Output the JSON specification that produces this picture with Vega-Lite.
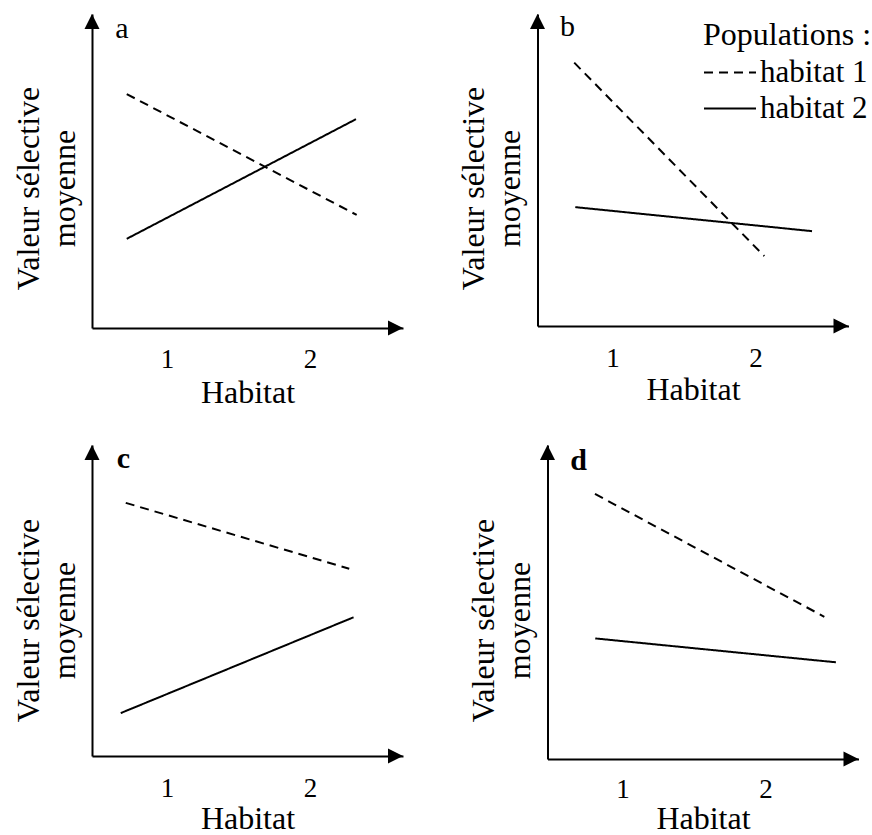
{
  "$schema": "https://vega.github.io/schema/vega-lite/v6.json",
  "padding": {"left": 12, "top": 12, "right": 0, "bottom": 0},
  "background": "white",
  "datasets": {
    "lines": [
      {"panel": "a", "pop": "habitat 1", "x": 0.718, "y": 7.45},
      {"panel": "a", "pop": "habitat 1", "x": 2.326, "y": 3.60},
      {"panel": "a", "pop": "habitat 2", "x": 0.718, "y": 2.84},
      {"panel": "a", "pop": "habitat 2", "x": 2.321, "y": 6.65},
      {"panel": "b", "pop": "habitat 1", "x": 0.732, "y": 8.44},
      {"panel": "b", "pop": "habitat 1", "x": 2.061, "y": 2.24},
      {"panel": "b", "pop": "habitat 2", "x": 0.739, "y": 3.81},
      {"panel": "b", "pop": "habitat 2", "x": 2.395, "y": 3.04},
      {"panel": "c", "pop": "habitat 1", "x": 0.711, "y": 8.14},
      {"panel": "c", "pop": "habitat 1", "x": 2.274, "y": 6.02},
      {"panel": "c", "pop": "habitat 2", "x": 0.676, "y": 1.38},
      {"panel": "c", "pop": "habitat 2", "x": 2.304, "y": 4.46},
      {"panel": "d", "pop": "habitat 1", "x": 0.807, "y": 8.44},
      {"panel": "d", "pop": "habitat 1", "x": 2.411, "y": 4.53},
      {"panel": "d", "pop": "habitat 2", "x": 0.809, "y": 3.84},
      {"panel": "d", "pop": "habitat 2", "x": 2.492, "y": 3.08}
    ],
    "labels": [
      {"panel": "a", "label": "a", "x": 0.685, "y": 9.24},
      {"panel": "b", "label": "b", "x": 0.685, "y": 9.29},
      {"panel": "c", "label": "c", "x": 0.694, "y": 9.26},
      {"panel": "d", "label": "d", "x": 0.692, "y": 9.20}
    ]
  },
  "config": {
    "font": "Liberation Serif",
    "view": {"stroke": null},
    "axis": {
      "grid": false,
      "ticks": false,
      "tickSize": 0,
      "domainColor": "black",
      "domainWidth": 2,
      "labelColor": "black",
      "labelFont": "Liberation Serif",
      "titleFont": "Liberation Serif",
      "titleColor": "black",
      "titleFontWeight": "normal",
      "titleFontSize": 32,
      "labelFontSize": 27,
      "format": "d"
    },
    "legend": {
      "labelFont": "Liberation Serif",
      "titleFont": "Liberation Serif"
    },
    "text": {"color": "black", "font": "Liberation Serif"}
  },
  "spacing": 36,
  "resolve": {"scale": {"strokeDash": "independent"}, "legend": {"strokeDash": "independent"}},
  "vconcat": [
    {
      "hconcat": [
        {
          "width": 311, "height": 314,
          "layer": [
            {
              "data": {"name": "lines"},
              "transform": [{"filter": "datum.panel === 'a'"}],
              "mark": {"type": "line", "color": "black", "strokeWidth": 2},
              "encoding": {
                "x": {"field": "x", "type": "quantitative", "scale": {"domain": [0.475, 2.65], "nice": false, "zero": false},
                  "axis": {"title": "Habitat", "values": [1, 2], "format": "d", "labelBaseline": "alphabetic", "labelPadding": 39, "titleBaseline": "alphabetic", "titleY": 74}},
                "y": {"field": "y", "type": "quantitative", "scale": {"domain": [0, 10], "nice": false, "zero": false},
                  "axis": {"title": ["Valeur sélective", "moyenne"], "labels": false, "titleBaseline": "alphabetic", "titleAlign": "center", "titleX": -54, "titleY": 174, "titleLineHeight": 36}},
                "strokeDash": {"field": "pop", "type": "nominal", "scale": {"domain": ["habitat 1", "habitat 2"], "range": [[9, 6], [1, 0]]}, "legend": null}
              }
            },
            {
              "data": {"name": "labels"},
              "transform": [{"filter": "datum.panel === 'a'"}],
              "mark": {"type": "text", "fontSize": 30, "align": "center", "baseline": "alphabetic", "color": "black", "font": "Liberation Serif"},
              "encoding": {"x": {"field": "x", "type": "quantitative"}, "y": {"field": "y", "type": "quantitative"}, "text": {"field": "label"}}
            },
            {
              "data": {"values": [{}]},
              "mark": {"type": "point", "shape": "M0,-1L1,1L-1,1Z", "size": 225, "filled": true, "color": "black", "opacity": 1, "yOffset": 7.5},
              "encoding": {"x": {"datum": 0.475, "type": "quantitative"}, "y": {"datum": 10, "type": "quantitative"}}
            },
            {
              "data": {"values": [{}]},
              "mark": {"type": "point", "shape": "M1,0L-1,-1L-1,1Z", "size": 225, "filled": true, "color": "black", "opacity": 1, "xOffset": -7.5},
              "encoding": {"x": {"datum": 2.65, "type": "quantitative"}, "y": {"datum": 0, "type": "quantitative"}}
            }
          ]
        },
        {
          "width": 311, "height": 312,
          "layer": [
            {
              "data": {"name": "lines"},
              "transform": [{"filter": "datum.panel === 'b'"}],
              "mark": {"type": "line", "color": "black", "strokeWidth": 2},
              "encoding": {
                "x": {"field": "x", "type": "quantitative", "scale": {"domain": [0.475, 2.65], "nice": false, "zero": false},
                  "axis": {"title": "Habitat", "values": [1, 2], "format": "d", "labelBaseline": "alphabetic", "labelPadding": 40, "titleBaseline": "alphabetic", "titleY": 73}},
                "y": {"field": "y", "type": "quantitative", "scale": {"domain": [0, 10], "nice": false, "zero": false},
                  "axis": {"title": ["Valeur sélective", "moyenne"], "labels": false, "titleBaseline": "alphabetic", "titleAlign": "center", "titleX": -54, "titleY": 174, "titleLineHeight": 36}},
                "strokeDash": {"field": "pop", "type": "nominal", "scale": {"domain": ["habitat 1", "habitat 2"], "range": [[9, 6], [1, 0]]},
                  "legend": {"orient": "none", "legendX": 165.5, "legendY": 6, "title": "Populations :", "titleFont": "Liberation Serif", "titleFontSize": 32, "titleFontWeight": "normal", "titleColor": "black", "titlePadding": 5, "labelFont": "Liberation Serif", "labelFontSize": 31, "labelColor": "black", "labelOffset": 3, "symbolType": "stroke", "symbolSize": 2704, "symbolStrokeWidth": 2, "symbolStrokeColor": "black", "clipHeight": 31, "rowPadding": 4, "padding": 0}}
              }
            },
            {
              "data": {"name": "labels"},
              "transform": [{"filter": "datum.panel === 'b'"}],
              "mark": {"type": "text", "fontSize": 30, "align": "center", "baseline": "alphabetic", "color": "black", "font": "Liberation Serif"},
              "encoding": {"x": {"field": "x", "type": "quantitative"}, "y": {"field": "y", "type": "quantitative"}, "text": {"field": "label"}}
            },
            {
              "data": {"values": [{}]},
              "mark": {"type": "point", "shape": "M0,-1L1,1L-1,1Z", "size": 225, "filled": true, "color": "black", "opacity": 1, "yOffset": 7.5},
              "encoding": {"x": {"datum": 0.475, "type": "quantitative"}, "y": {"datum": 10, "type": "quantitative"}}
            },
            {
              "data": {"values": [{}]},
              "mark": {"type": "point", "shape": "M1,0L-1,-1L-1,1Z", "size": 225, "filled": true, "color": "black", "opacity": 1, "xOffset": -7.5},
              "encoding": {"x": {"datum": 2.65, "type": "quantitative"}, "y": {"datum": 0, "type": "quantitative"}}
            }
          ]
        }
      ],
      "spacing": 134.5,
      "bounds": "flush",
      "resolve": {"scale": {"strokeDash": "independent"}, "legend": {"strokeDash": "independent"}}
    },
    {
      "hconcat": [
        {
          "width": 311, "height": 311,
          "layer": [
            {
              "data": {"name": "lines"},
              "transform": [{"filter": "datum.panel === 'c'"}],
              "mark": {"type": "line", "color": "black", "strokeWidth": 2},
              "encoding": {
                "x": {"field": "x", "type": "quantitative", "scale": {"domain": [0.475, 2.65], "nice": false, "zero": false},
                  "axis": {"title": "Habitat", "values": [1, 2], "format": "d", "labelBaseline": "alphabetic", "labelPadding": 40, "titleBaseline": "alphabetic", "titleY": 72}},
                "y": {"field": "y", "type": "quantitative", "scale": {"domain": [0, 10], "nice": false, "zero": false},
                  "axis": {"title": ["Valeur sélective", "moyenne"], "labels": false, "titleBaseline": "alphabetic", "titleAlign": "center", "titleX": -54, "titleY": 175, "titleLineHeight": 36}},
                "strokeDash": {"field": "pop", "type": "nominal", "scale": {"domain": ["habitat 1", "habitat 2"], "range": [[9, 6], [1, 0]]}, "legend": null}
              }
            },
            {
              "data": {"name": "labels"},
              "transform": [{"filter": "datum.panel === 'c'"}],
              "mark": {"type": "text", "fontSize": 30, "fontWeight": "bold", "align": "center", "baseline": "alphabetic", "color": "black", "font": "Liberation Serif"},
              "encoding": {"x": {"field": "x", "type": "quantitative"}, "y": {"field": "y", "type": "quantitative"}, "text": {"field": "label"}}
            },
            {
              "data": {"values": [{}]},
              "mark": {"type": "point", "shape": "M0,-1L1,1L-1,1Z", "size": 225, "filled": true, "color": "black", "opacity": 1, "yOffset": 7.5},
              "encoding": {"x": {"datum": 0.475, "type": "quantitative"}, "y": {"datum": 10, "type": "quantitative"}}
            },
            {
              "data": {"values": [{}]},
              "mark": {"type": "point", "shape": "M1,0L-1,-1L-1,1Z", "size": 225, "filled": true, "color": "black", "opacity": 1, "xOffset": -7.5},
              "encoding": {"x": {"datum": 2.65, "type": "quantitative"}, "y": {"datum": 0, "type": "quantitative"}}
            }
          ]
        },
        {
          "width": 311, "height": 314,
          "layer": [
            {
              "data": {"name": "lines"},
              "transform": [{"filter": "datum.panel === 'd'"}],
              "mark": {"type": "line", "color": "black", "strokeWidth": 2},
              "encoding": {
                "x": {"field": "x", "type": "quantitative", "scale": {"domain": [0.475, 2.65], "nice": false, "zero": false},
                  "axis": {"title": "Habitat", "values": [1, 2], "format": "d", "labelBaseline": "alphabetic", "labelPadding": 38, "titleBaseline": "alphabetic", "titleY": 69}},
                "y": {"field": "y", "type": "quantitative", "scale": {"domain": [0, 10], "nice": false, "zero": false},
                  "axis": {"title": ["Valeur sélective", "moyenne"], "labels": false, "titleBaseline": "alphabetic", "titleAlign": "center", "titleX": -54, "titleY": 175, "titleLineHeight": 36}},
                "strokeDash": {"field": "pop", "type": "nominal", "scale": {"domain": ["habitat 1", "habitat 2"], "range": [[9, 6], [1, 0]]}, "legend": null}
              }
            },
            {
              "data": {"name": "labels"},
              "transform": [{"filter": "datum.panel === 'd'"}],
              "mark": {"type": "text", "fontSize": 30, "fontWeight": "bold", "align": "center", "baseline": "alphabetic", "color": "black", "font": "Liberation Serif"},
              "encoding": {"x": {"field": "x", "type": "quantitative"}, "y": {"field": "y", "type": "quantitative"}, "text": {"field": "label"}}
            },
            {
              "data": {"values": [{}]},
              "mark": {"type": "point", "shape": "M0,-1L1,1L-1,1Z", "size": 225, "filled": true, "color": "black", "opacity": 1, "yOffset": 7.5},
              "encoding": {"x": {"datum": 0.475, "type": "quantitative"}, "y": {"datum": 10, "type": "quantitative"}}
            },
            {
              "data": {"values": [{}]},
              "mark": {"type": "point", "shape": "M1,0L-1,-1L-1,1Z", "size": 225, "filled": true, "color": "black", "opacity": 1, "xOffset": -7.5},
              "encoding": {"x": {"datum": 2.65, "type": "quantitative"}, "y": {"datum": 0, "type": "quantitative"}}
            }
          ]
        }
      ],
      "spacing": 144.5,
      "bounds": "flush",
      "resolve": {"scale": {"strokeDash": "independent"}, "legend": {"strokeDash": "independent"}}
    }
  ]
}
